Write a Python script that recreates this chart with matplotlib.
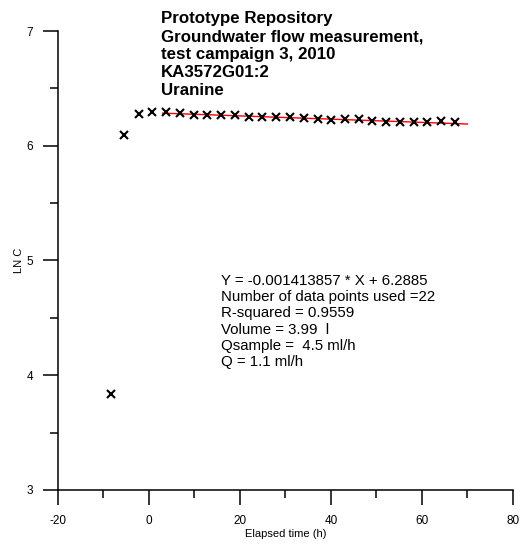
import matplotlib
matplotlib.use("Agg")
import numpy as np
import matplotlib.pyplot as plt
from matplotlib.ticker import MultipleLocator

plt.rcParams['font.family'] = ['Liberation Sans', 'DejaVu Sans']
plt.rcParams['axes.unicode_minus'] = False

# measured points (elapsed time in h, ln of concentration)
elapsed = [-8.4, -5.4, -2.3, 0.7, 3.7, 6.8, 9.8, 12.8, 15.8, 18.8, 21.9, 24.9, 27.9,
           31.0, 34.0, 37.1, 40.0, 43.0, 46.1, 49.1, 52.2, 55.1, 58.2, 61.2, 64.2, 67.2]
ln_c = [3.834, 6.094, 6.280, 6.290, 6.296, 6.288, 6.268, 6.264, 6.264, 6.268, 6.250,
        6.248, 6.248, 6.248, 6.239, 6.233, 6.221, 6.233, 6.233, 6.218, 6.210, 6.210,
        6.210, 6.210, 6.218, 6.203]

# regression line
slope = -0.001413857
intercept = 6.2885
fit_range = [3.0, 70.0]

title_lines = ["Prototype Repository",
               "Groundwater flow measurement,",
               "test campaign 3, 2010",
               "KA3572G01:2",
               "Uranine"]

info_lines = ["Y = -0.001413857 * X + 6.2885",
              "Number of data points used =22",
              "R-squared = 0.9559",
              "Volume = 3.99  l",
              "Qsample =  4.5 ml/h",
              "Q = 1.1 ml/h"]

fig = plt.figure(figsize=(5.27, 5.46), dpi=100)
ax = fig.add_axes([0.110, 0.1026, 0.8634, 0.8406])

fx = np.linspace(fit_range[0], fit_range[1], 50)
ax.plot(fx, slope * fx + intercept, color='red', lw=1.0, zorder=2)
ax.plot(elapsed, ln_c, ls='none', marker='x', ms=6, mew=1.5, color='black', zorder=3)

ax.set_xlim(-20, 80)
ax.set_ylim(3, 7)
ax.xaxis.set_major_locator(MultipleLocator(20))
ax.xaxis.set_minor_locator(MultipleLocator(10))
ax.yaxis.set_major_locator(MultipleLocator(1))
ax.yaxis.set_minor_locator(MultipleLocator(0.5))

for s in ['top', 'right']:
    ax.spines[s].set_visible(False)
for s in ['left', 'bottom']:
    ax.spines[s].set_linewidth(1.1)

ax.tick_params(which='major', direction='out', length=11, width=1.1, labelsize=8.5, pad=7)
ax.tick_params(which='minor', direction='out', length=5.5, width=1.1)

ax.set_xlabel("Elapsed time (h)", fontsize=8, labelpad=1.5)
ax.set_ylabel("LN C", fontsize=8, labelpad=2)

fig.text(0.305, 1 - 11.0 / 546, "\n".join(title_lines), fontsize=12.2, fontweight='bold',
         va='top', ha='left', linespacing=1.26)

ax.text(15.8, 4.885, "\n".join(info_lines), fontsize=10.8, va='top', ha='left', linespacing=1.21)

fig.savefig("out.png", dpi=100)
